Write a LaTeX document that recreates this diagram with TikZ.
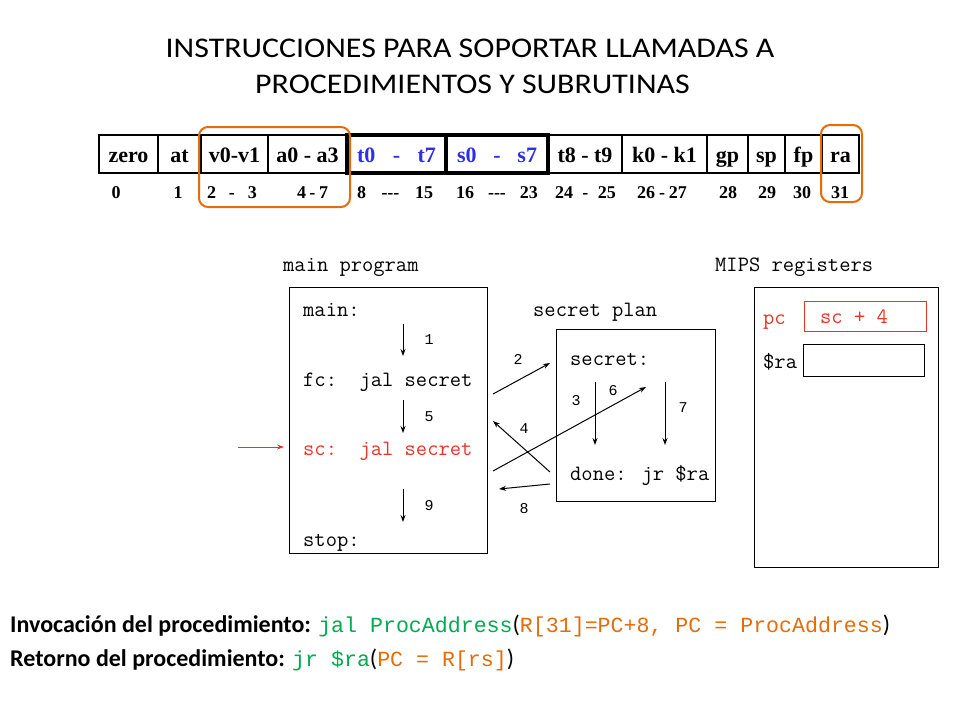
\documentclass[tikz,border=0pt]{standalone}
\usepackage{fontspec}
\setmainfont{Carlito}
\newfontfamily\titlefont[FakeStretch=1.12]{Carlito}
\newfontfamily\tnr{Liberation Serif}
\newfontfamily\cour{Liberation Mono}
\newfontfamily\cons{Liberation Mono}
\usetikzlibrary{arrows.meta}
\definecolor{orng}{RGB}{228,108,10}
\definecolor{redc}{RGB}{235,50,36}
\definecolor{bluec}{RGB}{45,45,235}
\definecolor{grn}{RGB}{0,170,80}
\tikzset{
  cell/.style={draw=black, line width=1.3pt, minimum height=38pt, inner sep=0pt, text height=18pt, text depth=2pt, font=\tnr\bfseries\fontsize{22}{24}\selectfont},
  thickcell/.style={cell, line width=3.5pt, text=bluec},
  num/.style={inner sep=0pt, anchor=base, font=\tnr\bfseries\fontsize{18}{20}\selectfont},
  obox/.style={draw=orng, line width=2pt, rounded corners=9pt, inner sep=0pt},
  code/.style={inner sep=0pt, anchor=base west, font=\ttfamily\fontsize{21.9}{24}\selectfont},
  lbl/.style={inner sep=0pt, font=\cour\fontsize{15}{17}\selectfont},
  box/.style={draw=black, line width=1pt, inner sep=0pt},
  arr/.style={draw=black, line width=1pt, -{Stealth[length=7pt,width=5pt]}},
  bottomtext/.style={inner sep=0pt, anchor=base west, font=\fontsize{24}{28}\selectfont},
}
\newcommand{\bcode}{\cons\fontsize{21.6}{24}\selectfont}
\begin{document}
\begin{tikzpicture}[x=1pt,y=-1pt]
\useasboundingbox (0,0) rectangle (960,720);
% title
\node[inner sep=0pt, anchor=base, font=\titlefont\fontsize{28.5}{32}\selectfont] (title1) at (470,57) {INSTRUCCIONES PARA SOPORTAR LLAMADAS A};
\node[inner sep=0pt, anchor=base, font=\titlefont\fontsize{28.5}{32}\selectfont] (title2) at (472.5,93) {PROCEDIMIENTOS Y SUBRUTINAS};
% register table
\node[cell, minimum width=59pt] (czero) at (128.5,154) {zero};
\node[cell, minimum width=43pt] (cat) at (179.5,154) {at};
\node[cell, minimum width=67pt] (cv) at (234.5,154) {v0-v1};
\node[cell, minimum width=79pt] (ca) at (307.5,154) {a0 - a3};
\node[cell, minimum width=74pt] (ct8) at (585,154) {t8 - t9};
\node[cell, minimum width=85pt] (ck) at (664.5,154) {k0 - k1};
\node[cell, minimum width=41pt] (cgp) at (727.5,154) {gp};
\node[cell, minimum width=37pt] (csp) at (766.5,154) {sp};
\node[cell, minimum width=37pt] (cfp) at (803.5,154) {fp};
\node[cell, minimum width=37pt] (cra) at (840.5,154) {ra};
\node[thickcell, minimum width=99pt] (ct0) at (396.5,154) {\hbox to 79pt{t0\hfill-\hfill t7}};
\node[thickcell, minimum width=102pt] (cs0) at (497,154) {\hbox to 80pt{s0\hfill-\hfill s7}};
% numbers
\node[num] (n0) at (116,198) {0};
\node[num] (n1) at (178,198) {1};
\node[num] (n2) at (232,198) {\hbox to 50pt{2\hfill-\hfill 3}};
\node[num] (n4) at (312.5,198) {\hbox to 31pt{4\hfill-\hfill 7}};
\node[num] (n8) at (395,198) {\hbox to 76pt{8\hfill{-}{-}{-}\hfill 15}};
\node[num] (n16) at (497,198) {\hbox to 82pt{16\hfill{-}{-}{-}\hfill 23}};
\node[num] (n24) at (585.5,198) {\hbox to 61pt{24\hfill-\hfill 25}};
\node[num] (n26) at (662,198) {\hbox to 50pt{26\hfill-\hfill 27}};
\node[num] (n28) at (728,198) {28};
\node[num] (n29) at (767,198) {29};
\node[num] (n30) at (802,198) {30};
\node[num] (n31) at (840,198) {31};
% highlight boxes
\node[obox, minimum width=151pt, minimum height=80pt] (hl1) at (274.5,167) {};
\node[obox, minimum width=41pt, minimum height=77pt] (hl2) at (841.5,163.5) {};
% main program
\node[code] (mainlbl) at (283,271.7) {main program};
\node[box, minimum width=198pt, minimum height=266pt] (mainbox) at (388,420) {};
\node[code] (lmain) at (303,316.7) {main:};
\node[code] (lfc) at (303,386.7) {fc:\ \ jal secret};
\node[code, text=redc] (lsc) at (303,455) {sc:\ \ jal secret};
\node[code] (lstop) at (303,546) {stop:};
\coordinate (a1s) at (403,324); \coordinate (a1e) at (403,356);
\coordinate (a5s) at (403,400); \coordinate (a5e) at (403,433);
\coordinate (a9s) at (403,489); \coordinate (a9e) at (403,522);
\draw[arr] (a1s) -- (a1e);
\draw[arr] (a5s) -- (a5e);
\draw[arr] (a9s) -- (a9e);
\node[lbl] (l1) at (429,340) {1};
\node[lbl] (l5) at (429,417) {5};
\node[lbl] (l9) at (429,506) {9};
\coordinate (rs) at (238,447); \coordinate (re) at (284,447);
\draw[draw=redc, line width=1pt, -{Stealth[length=7pt,width=5pt]}] (rs) -- (re);
% secret plan
\node[code] (seclbl) at (533,316.7) {secret plan};
\node[box, minimum width=159pt, minimum height=172pt] (secbox) at (635.5,415) {};
\node[code] (lsecret) at (570,365.7) {secret:};
\node[code] (ldone) at (570,480.7) {done: jr \$ra};
\coordinate (a3s) at (595,382); \coordinate (a3e) at (595,445);
\coordinate (a7s) at (665,382); \coordinate (a7e) at (665,445);
\draw[arr] (a3s) -- (a3e);
\draw[arr] (a7s) -- (a7e);
\node[lbl] (l3) at (576,401) {3};
\node[lbl] (l7) at (683,408) {7};
\node[lbl] (l6) at (613,391) {6};
\coordinate (a2s) at (493,394); \coordinate (a2e) at (550,363);
\coordinate (a6s) at (493,471); \coordinate (a6e) at (646,387);
\coordinate (a4s) at (550,472); \coordinate (a4e) at (493,421);
\coordinate (a8s) at (550,484); \coordinate (a8e) at (499,489);
\draw[arr] (a2s) -- (a2e);
\draw[arr] (a6s) -- (a6e);
\draw[arr] (a4s) -- (a4e);
\draw[arr] (a8s) -- (a8e);
\node[lbl] (l2) at (518,359) {2};
\node[lbl] (l4) at (524,429) {4};
\node[lbl] (l8) at (524,509) {8};
% MIPS registers
\node[code] (mipslbl) at (715,271.7) {MIPS registers};
\node[box, minimum width=184pt, minimum height=280pt] (mipsbox) at (846,427) {};
\node[code, text=redc] (lpc) at (763,324) {pc};
\node[draw=redc, line width=1pt, inner sep=0pt, minimum width=122pt, minimum height=30pt] (pcbox) at (865,316) {};
\node[code, text=redc] (pcval) at (820,323) {sc + 4};
\node[code] (lra) at (763,368) {\$ra};
\node[box, minimum width=121pt, minimum height=32pt] (rabox) at (863.5,360) {};
% bottom lines
\node[bottomtext] (inv) at (10,632.7)
  {\textbf{Invocación del procedimiento: }{\color{grn}\bcode jal ProcAddress}({\color{orng}\bcode R[31]=PC+8, PC = ProcAddress})};
\node[bottomtext] (ret) at (10,666)
  {\textbf{Retorno del procedimiento: }{\color{grn}\bcode jr \$ra}({\color{orng}\bcode PC = R[rs]})};
\end{tikzpicture}
\end{document}
